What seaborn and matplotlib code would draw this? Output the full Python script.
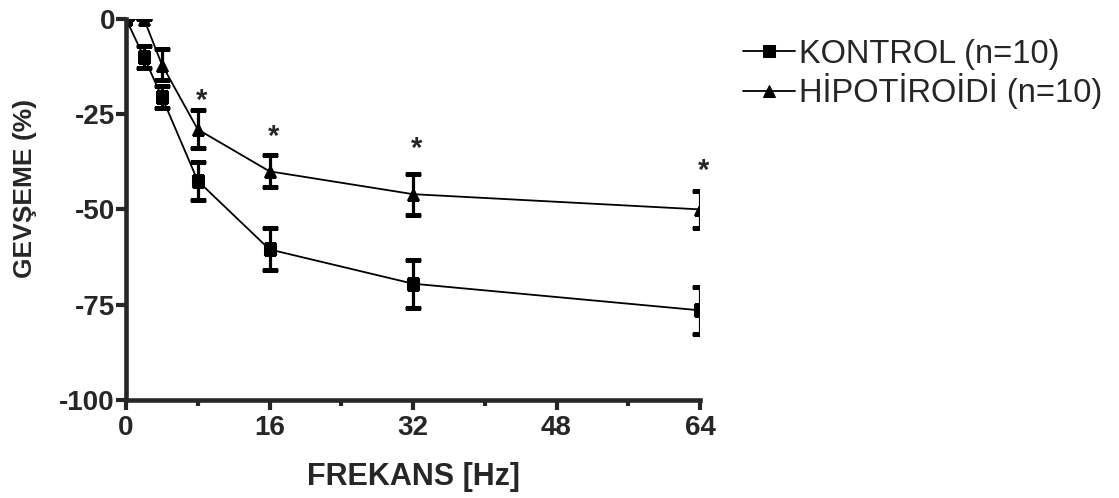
import pandas as pd
import matplotlib
matplotlib.use("Agg")
import matplotlib.pyplot as plt
import seaborn as sns
from matplotlib.path import Path
from matplotlib.ticker import MultipleLocator

# data
frekans = [0, 2, 4, 8, 16, 32, 64]
kontrol_ort = [0, -10, -20.5, -42.5, -60.5, -69.5, -76.5]
kontrol_sem = [0, 3, 3, 5, 5.5, 6.3, 6.2]
hipo_ort = [0, 0, -12, -29, -40, -46, -50]
hipo_sem = [0, 0, 4, 5, 4.2, 5.4, 4.8]
yildiz_x = [8, 16, 32, 64]
yildiz_y = [-21.5, -31, -34, -40]

etiket_k = "KONTROL (n=10)"
etiket_h = "HİPOTİROİDİ (n=10)"

df = pd.DataFrame({
    "frekans": frekans + frekans,
    "gevseme": kontrol_ort + hipo_ort,
    "grup": [etiket_k] * len(frekans) + [etiket_h] * len(frekans),
})

sns.set_style("ticks")
plt.rcParams["font.family"] = ["Liberation Sans", "DejaVu Sans"]
plt.rcParams["axes.unicode_minus"] = False

fig = plt.figure(figsize=(11.19, 4.98), dpi=100)
ax = fig.add_axes([0.1126, 0.197, 0.5130, 0.765])

sns.lineplot(data=df, x="frekans", y="gevseme", hue="grup", style="grup",
             palette=["black", "black"], markers={etiket_k: "s", etiket_h: "^"},
             dashes=False, linewidth=1.3, markersize=9, markeredgecolor="black",
             ax=ax, legend=True)

# error bars (SEM)
for ort, sem in [(kontrol_ort, kontrol_sem), (hipo_ort, hipo_sem)]:
    ax.errorbar(frekans, ort, yerr=sem, fmt="none", ecolor="black",
                elinewidth=2.3, capsize=6, capthick=2.3)

# clip markers and caps at the axes edge (as in the original)
kutu = Path.unit_rectangle()
for art in ax.lines + ax.collections:
    art.set_clip_path(kutu, ax.transAxes)

# significance stars
for x, y in zip(yildiz_x, yildiz_y):
    ax.text(x + 0.4, y, "*", ha="center", va="center", fontsize=21, fontweight="bold")

ax.set_xlim(0, 64)
ax.set_ylim(-100, 0)
ax.xaxis.set_major_locator(MultipleLocator(16))
ax.xaxis.set_minor_locator(MultipleLocator(8))
ax.yaxis.set_major_locator(MultipleLocator(25))

for s in ["top", "right"]:
    ax.spines[s].set_visible(False)
for s in ["left", "bottom"]:
    ax.spines[s].set_linewidth(3.3)

ax.tick_params(axis="both", which="major", width=3, length=7, labelsize=20, pad=1)
ax.tick_params(axis="x", which="major", pad=4)
ax.tick_params(axis="x", which="minor", width=3, length=4)
for lab in ax.get_xticklabels() + ax.get_yticklabels():
    lab.set_fontweight("bold")

ax.set_xlabel("FREKANS [Hz]", fontsize=22, fontweight="bold", labelpad=15)
ax.set_ylabel("GEVŞEME (%)", fontsize=19, fontweight="bold")
ax.yaxis.set_label_coords(-0.155, 0.556)

h, l = ax.get_legend_handles_labels()
ax.legend(h, l, loc="upper left", bbox_to_anchor=(0.664, 0.922),
          bbox_transform=fig.transFigure, frameon=False, fontsize=23.5,
          handlelength=1.6, handletextpad=0.1, labelspacing=0.1,
          borderpad=0, borderaxespad=0)

fig.savefig("out.png", dpi=100)
